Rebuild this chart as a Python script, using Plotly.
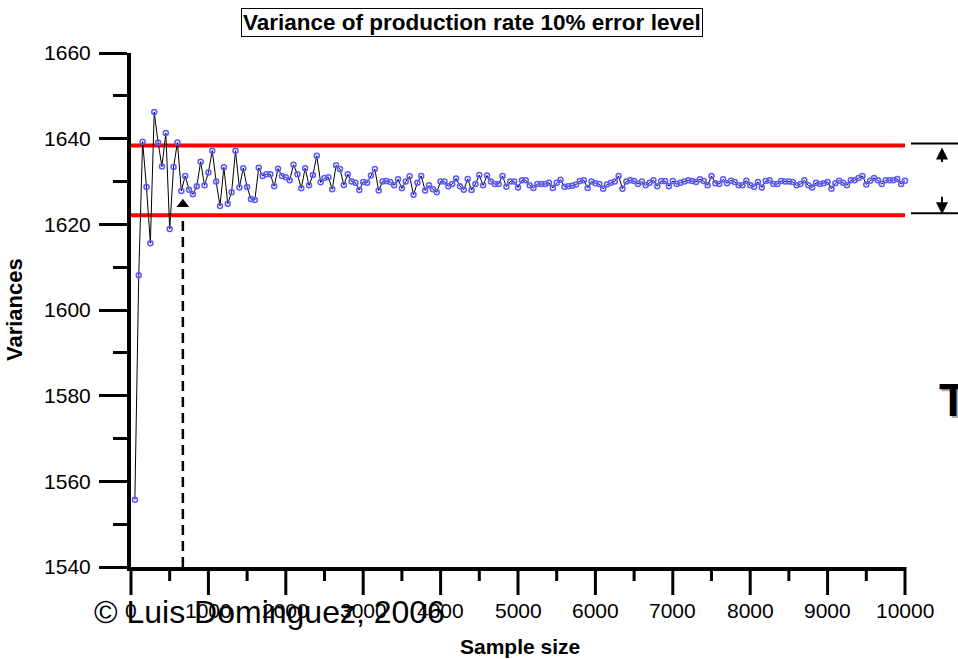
import plotly.graph_objects as go

# ---------------- data ----------------
sample_sizes = list(range(50, 10001, 50))
variances = [
    1555.7, 1608.1, 1639.3, 1628.7, 1615.6, 1646.2, 1639.1, 1633.5, 1641.3, 1618.9,
    1633.4, 1639.1, 1627.8, 1631.3, 1628.1, 1627.0, 1628.9, 1634.6, 1629.1, 1632.1,
    1637.2, 1630.0, 1624.3, 1633.3, 1624.8, 1627.5, 1637.2, 1628.6, 1633.1, 1628.7,
    1625.9, 1625.7, 1633.2, 1631.3, 1631.7, 1631.7, 1628.9, 1633.0, 1631.3, 1631.0,
    1630.3, 1633.9, 1631.7, 1628.4, 1633.1, 1629.1, 1631.5, 1636.0, 1629.8, 1630.8,
    1631.0, 1628.2, 1633.8, 1632.9, 1629.2, 1631.7, 1630.0, 1629.7, 1628.0, 1629.9,
    1629.7, 1631.4, 1632.9, 1627.9, 1630.0, 1630.1, 1629.9, 1629.1, 1630.5, 1628.4,
    1630.0, 1631.2, 1626.9, 1629.7, 1631.3, 1627.9, 1629.1, 1628.2, 1627.5, 1630.0,
    1630.0, 1628.9, 1629.4, 1630.7, 1628.9, 1628.1, 1630.6, 1628.0, 1629.4, 1631.5,
    1629.1, 1631.4, 1630.0, 1629.4, 1629.4, 1631.3, 1628.8, 1630.0, 1630.0, 1628.6,
    1630.3, 1630.3, 1629.1, 1628.5, 1629.4, 1629.4, 1629.4, 1629.7, 1628.5, 1629.7,
    1630.4, 1628.8, 1628.9, 1629.0, 1629.3, 1630.1, 1630.3, 1628.5, 1630.0, 1629.6,
    1629.4, 1628.3, 1629.3, 1629.7, 1630.0, 1631.3, 1628.3, 1630.0, 1630.3, 1630.1,
    1629.4, 1630.0, 1629.1, 1629.7, 1630.3, 1628.9, 1630.1, 1630.1, 1628.9, 1630.1,
    1629.4, 1629.7, 1630.0, 1630.3, 1630.1, 1629.9, 1630.5, 1630.1, 1629.1, 1631.3,
    1629.6, 1629.4, 1630.5, 1629.6, 1630.2, 1629.9, 1629.1, 1629.1, 1630.2, 1629.1,
    1628.8, 1629.9, 1628.6, 1630.1, 1630.3, 1629.4, 1629.4, 1630.1, 1630.0, 1630.0,
    1629.9, 1629.1, 1629.4, 1630.3, 1629.1, 1628.6, 1629.7, 1629.4, 1629.6, 1629.9,
    1628.3, 1629.6, 1630.2, 1629.7, 1629.1, 1630.3, 1630.3, 1630.8, 1631.3, 1629.3,
    1630.2, 1630.8, 1630.3, 1629.4, 1630.3, 1630.3, 1630.3, 1630.6, 1629.4, 1630.2,
]
upper_limit = 1638.4
lower_limit = 1622.1
stable_sample = 670
x_ticks = [0, 1000, 2000, 3000, 4000, 5000, 6000, 7000, 8000, 9000, 10000]
y_ticks = [1540, 1560, 1580, 1600, 1620, 1640, 1660]

title_text = "Variance of production rate 10% error level"
x_title = "Sample size"
y_title = "Variances"
credit = "© Luis Dominguez, 2006"

FONT = "Liberation Sans, Arial, sans-serif"
X_MIN, X_MAX = 0, 10000
Y_MIN, Y_MAX = 1540, 1660
PLOT_W, PLOT_H = 774.0, 514.0

fig = go.Figure()

# limit lines
for lim in (upper_limit, lower_limit):
    fig.add_trace(go.Scatter(x=[X_MIN, X_MAX], y=[lim, lim], mode="lines",
                             line=dict(color="#ff0000", width=4),
                             hoverinfo="skip", showlegend=False))

# series
fig.add_trace(go.Scatter(
    x=sample_sizes, y=variances, mode="lines+markers",
    line=dict(color="black", width=1),
    marker=dict(symbol="circle-open", size=5, color="#5a5aff", line=dict(width=1.5)),
    showlegend=False, cliponaxis=False))

# dashed indicator + triangle head
fig.add_shape(type="line", xref="x", yref="y", x0=stable_sample, x1=stable_sample,
              y0=Y_MIN, y1=1622.0, line=dict(color="black", width=2.5, dash="10px,6px"))
fig.add_trace(go.Scatter(x=[stable_sample], y=[1624.7], mode="markers",
                         marker=dict(symbol="triangle-up", size=11, color="black"),
                         showlegend=False, cliponaxis=False))

def px_x(p):
    return (p - 131) / PLOT_W

def px_y(p):
    return (567 - p) / PLOT_H

def data_to_paper_x(v):
    return (v - X_MIN) / float(X_MAX - X_MIN)

# x-axis tick marks drawn as paper-referenced shapes (from the tick list)
minor_x = [(a + b) / 2 for a, b in zip(x_ticks[:-1], x_ticks[1:])]
for v in x_ticks:
    xp = data_to_paper_x(v)
    fig.add_shape(type="line", xref="paper", yref="paper", x0=xp, x1=xp,
                  y0=0, y1=-28 / PLOT_H, line=dict(color="black", width=3), layer="above")
for v in minor_x:
    xp = data_to_paper_x(v)
    fig.add_shape(type="line", xref="paper", yref="paper", x0=xp, x1=xp,
                  y0=0, y1=-14 / PLOT_H, line=dict(color="black", width=3), layer="above")

# right-side bracket lines
for lim in (upper_limit, lower_limit):
    fig.add_shape(type="line", xref="paper", yref="y", x0=px_x(911), x1=px_x(960),
                  y0=lim + 0.5, y1=lim + 0.5, line=dict(color="black", width=2))

annotations = [
    dict(x=px_x(942), y=upper_limit, xref="paper", yref="y", text="", showarrow=True,
         ax=0, ay=18, arrowhead=2, arrowsize=1.2, arrowwidth=2, arrowcolor="black", standoff=2),
    dict(x=px_x(942), y=lower_limit, xref="paper", yref="y", text="", showarrow=True,
         ax=0, ay=-20, arrowhead=2, arrowsize=1.2, arrowwidth=2, arrowcolor="black", standoff=1),
    dict(x=px_x(472), y=px_y(23), xref="paper", yref="paper", text="<b>%s</b>" % title_text,
         xanchor="center", yanchor="middle",
         showarrow=False, font=dict(family=FONT, size=22.5, color="black"),
         bordercolor="black", borderwidth=1, borderpad=1, bgcolor="white"),
    dict(x=px_x(14), y=px_y(310), xref="paper", yref="paper", text="<b>%s</b>" % y_title,
         xanchor="center", yanchor="middle",
         showarrow=False, textangle=-90, font=dict(family=FONT, size=22, color="black")),
    dict(x=px_x(520), y=px_y(646), xref="paper", yref="paper", text="<b>%s</b>" % x_title,
         xanchor="center", yanchor="middle",
         showarrow=False, font=dict(family=FONT, size=21, color="black")),
    dict(x=px_x(939), y=px_y(402), xref="paper", yref="paper", text="<b>T</b>",
         xanchor="left", yanchor="middle",
         showarrow=False, font=dict(family=FONT, size=46, color="#b0b0b0")),
    dict(x=px_x(937), y=px_y(400), xref="paper", yref="paper", text="<b>T</b>",
         xanchor="left", yanchor="middle",
         showarrow=False, font=dict(family=FONT, size=46, color="black")),
]

# x tick labels (placed from the tick list)
for v in x_ticks:
    annotations.append(dict(x=data_to_paper_x(v), y=px_y(610), xref="paper", yref="paper",
                            text=str(v), xanchor="center", yanchor="middle", showarrow=False,
                            font=dict(family=FONT, size=21, color="black")))

annotations.append(dict(x=px_x(92), y=px_y(612), xref="paper", yref="paper", text=credit,
                        xanchor="left", yanchor="middle",
                        showarrow=False, font=dict(family=FONT, size=32, color="black")))

fig.update_layout(
    width=958, height=659,
    margin=dict(l=131, r=53, t=53, b=92, pad=0),
    paper_bgcolor="white", plot_bgcolor="white",
    font=dict(family=FONT, size=20, color="black"),
    annotations=annotations,
    showlegend=False,
    xaxis=dict(range=[X_MIN, X_MAX], tickvals=x_ticks, showticklabels=False, ticks="",
               showgrid=False, zeroline=False, showline=True, linecolor="black", linewidth=4),
    yaxis=dict(range=[Y_MIN, Y_MAX], tickvals=y_ticks, ticktext=[str(v) for v in y_ticks],
               showgrid=False, zeroline=False, showline=True, linecolor="black", linewidth=4,
               ticks="outside", ticklen=28, tickwidth=3, tickcolor="black",
               tickfont=dict(family=FONT, size=21, color="black"), ticklabelstandoff=4,
               minor=dict(ticks="outside", ticklen=14, tickwidth=3, tickcolor="black", dtick=10, tick0=Y_MIN,
                          showgrid=False)),
)

fig.write_html("out.html")
